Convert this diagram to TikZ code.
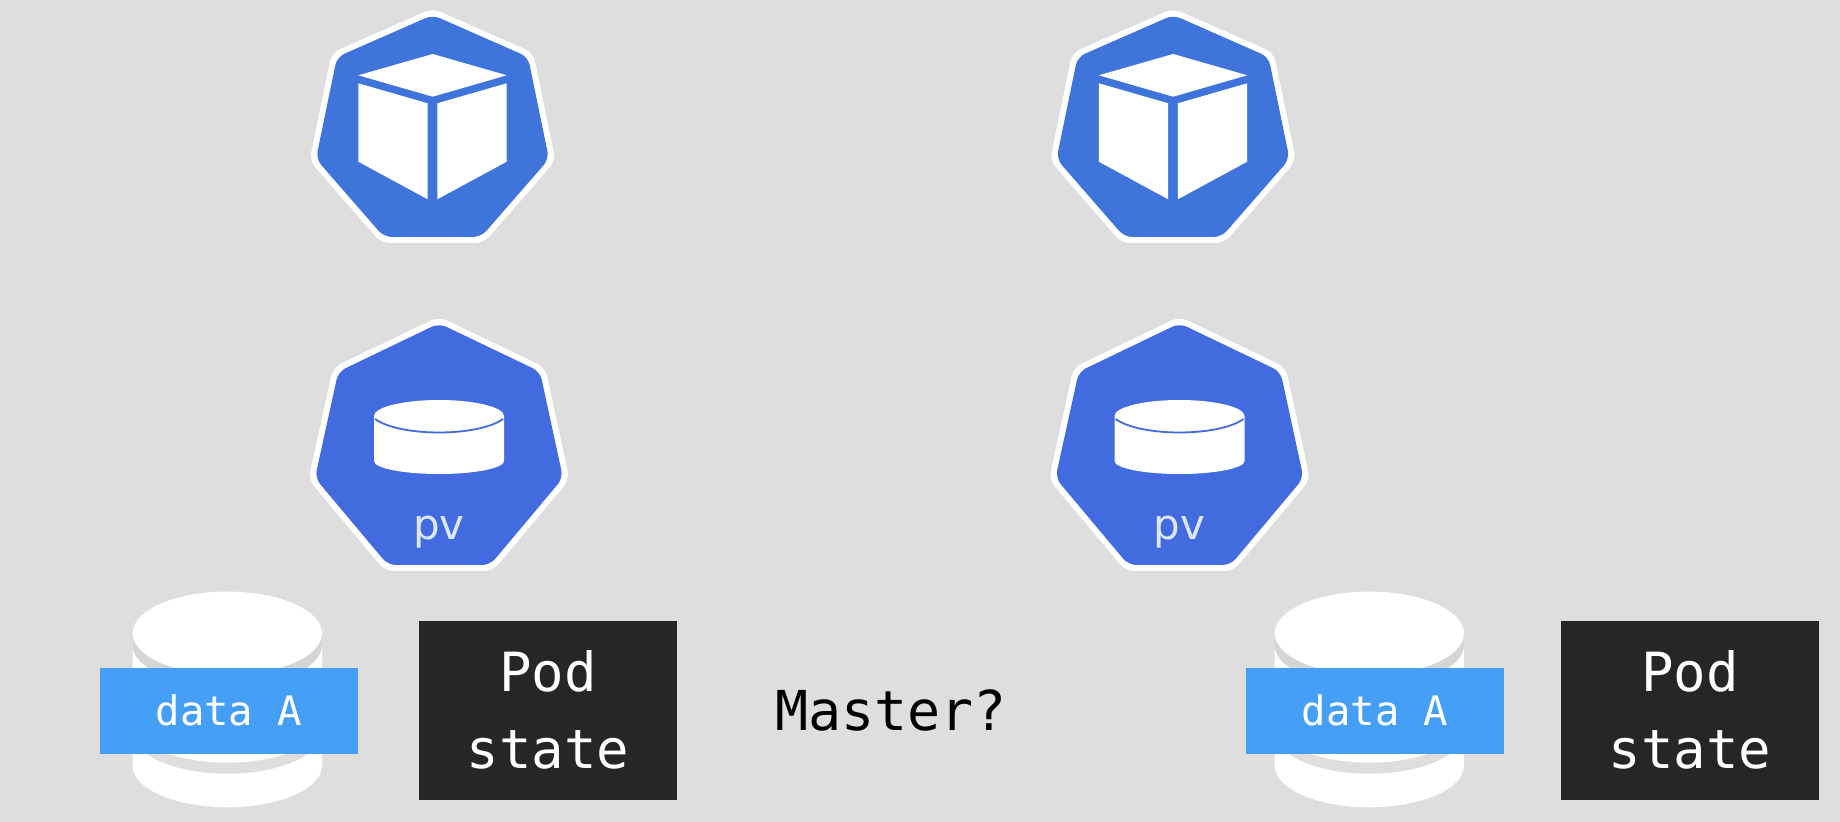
\documentclass[tikz,border=0pt]{standalone}
\usepackage{fontspec}
\setmainfont{DejaVu Sans}
\setmonofont{DejaVu Sans Mono}
\definecolor{bgc}{HTML}{DEDEDE}
\definecolor{kube}{HTML}{3F74DB}
\definecolor{pvc}{HTML}{426BDF}
\definecolor{datac}{HTML}{469FF6}
\definecolor{podc}{HTML}{262626}
\definecolor{drumshade}{HTML}{D5D5D5}
\definecolor{pvtext}{HTML}{DDE6FA}
\tikzset{
  halo/.style={draw=white,fill=white,line width=6pt,line join=round,rounded corners=3pt},
  core/.style={rounded corners=4pt},
  databox/.style={fill=datac,minimum width=129pt,minimum height=43pt,inner sep=0pt,text=white,font=\ttfamily\fontsize{20.3pt}{24pt}\selectfont},
  podbox/.style={fill=podc,minimum width=129pt,minimum height=89.5pt,inner sep=0pt,text=white,align=center,font=\ttfamily\fontsize{27pt}{36.5pt}\selectfont},
  pvlabel/.style={text=pvtext,inner sep=0pt,font=\fontsize{21pt}{24pt}\selectfont},
  mastertext/.style={text=black,inner sep=0pt,font=\ttfamily\fontsize{27.5pt}{30pt}\selectfont}
}
\newcommand{\podicon}{%
  \path[halo] (432.7,15)--(528,57)--(549,159)--(481,237)--(384,237)--(316,159)--(337,57)--cycle;
  \fill[kube,core] (432.7,15)--(528,57)--(549,159)--(481,237)--(384,237)--(316,159)--(337,57)--cycle;
  \fill[white] (432.7,54)--(506.7,75.3)--(432.7,96.7)--(358.3,75.3)--cycle;
  \fill[white] (358.3,83.3)--(427.7,103.3)--(427.7,199.3)--(358.3,161.7)--cycle;
  \fill[white] (437.3,103.3)--(506.7,83.3)--(506.7,161.7)--(437.3,199.3)--cycle;
}
\newcommand{\pvicon}{%
  \path[halo] (439,323.3)--(540,371.7)--(563,478)--(490,565)--(388,565)--(315,478)--(338.3,371.7)--cycle;
  \fill[pvc,core] (439,323.3)--(540,371.7)--(563,478)--(490,565)--(388,565)--(315,478)--(338.3,371.7)--cycle;
  \fill[white] (374,416) -- (374,461) arc[x radius=65,y radius=13,start angle=180,end angle=0] -- (504,416) arc[x radius=65,y radius=16,start angle=0,end angle=-180] -- cycle;
  \draw[pvc,line width=0.9pt] (375,419) .. controls (400,437) and (478,437) .. (503,419);
}
\newcommand{\drumicon}{%
  \fill[white] (132.6,645) -- (132.6,765.6) arc[x radius=94.7,y radius=41.7,start angle=180,end angle=0] -- (322,645) -- cycle;
  \fill[drumshade] (132.6,633.3) -- (132.6,645) arc[x radius=94.7,y radius=41.7,start angle=180,end angle=0] -- (322,633.3) -- cycle;
  \fill[white] (227.3,633.3) ellipse[x radius=94.7,y radius=41.7];
  \fill[bgc] (132.6,732) arc[x radius=94.7,y radius=41.7,start angle=180,end angle=0] -- cycle;
  \fill[white] (132.6,721) arc[x radius=94.7,y radius=41.7,start angle=180,end angle=0] -- cycle;
}
\begin{document}
\begin{tikzpicture}[x=0.5pt,y=-0.5pt]
  \useasboundingbox (0,0) rectangle (1840,822);
  \fill[bgc] (0,0) rectangle (1840,822);
  \podicon
  \pvicon
  \begin{scope}[shift={(740.5,0)}]
    \podicon
    \pvicon
  \end{scope}
  \drumicon
  \begin{scope}[shift={(1142,0)}]
    \drumicon
  \end{scope}
  \node[pvlabel] (pvA) at (439,532) {pv};
  \node[pvlabel] (pvB) at (1179.5,532) {pv};
  \node[databox] (dataL) at (229,710.5) {data A};
  \node[databox] (dataR) at (1375,710.5) {data A};
  \node[podbox] (podL) at (548,710.5) {\raisebox{3pt}{Pod}\\\raisebox{1pt}{state}};
  \node[podbox] (podR) at (1690,710.5) {\raisebox{3pt}{Pod}\\\raisebox{1pt}{state}};
  \node[mastertext] (master) at (891,710) {Master?};
\end{tikzpicture}
\end{document}
